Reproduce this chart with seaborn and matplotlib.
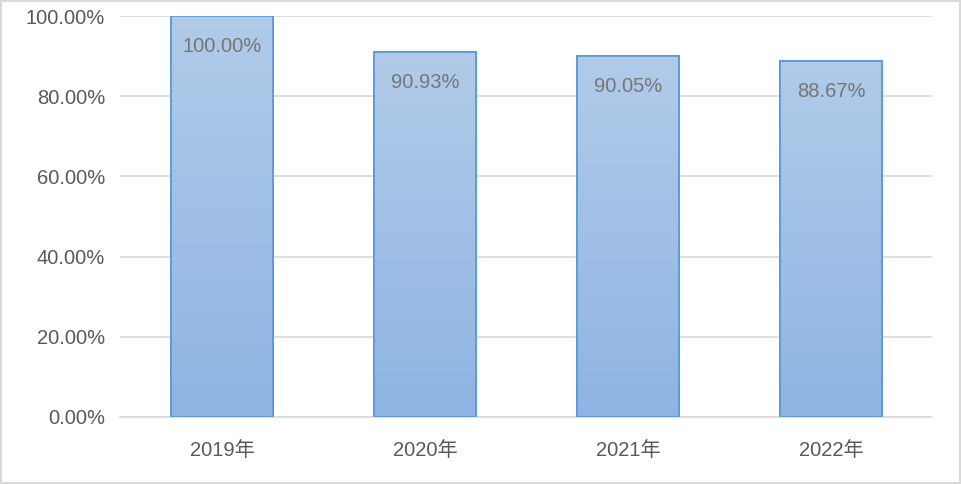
import numpy as np
import pandas as pd
import matplotlib
matplotlib.use('Agg')
import matplotlib.pyplot as plt
from matplotlib.patches import Rectangle
from matplotlib.colors import LinearSegmentedColormap
import seaborn as sns

years = ['2019年', '2020年', '2021年', '2022年']
rates = [100.00, 90.93, 90.05, 88.67]
y_ticks = [0, 20, 40, 60, 80, 100]

sns.set_style('white')
plt.rcParams['font.family'] = ['Liberation Sans', 'Noto Sans CJK SC', 'DejaVu Sans']

df = pd.DataFrame({'year': years, 'rate': rates})

fig = plt.figure(figsize=(9.62, 4.84), dpi=100)
ax = fig.add_axes([120.5 / 962, 1 - 417 / 484, 812 / 962, 401 / 484])

sns.barplot(data=df, x='year', y='rate', ax=ax, width=0.5,
            color='#a4c2e8', edgecolor='#5b9bd5', linewidth=1.3, zorder=3)

# gradient fill inside each bar
cmap = LinearSegmentedColormap.from_list('bar', ['#8fb4e3', '#b1cbe9'])
grad = np.linspace(0, 1, 256).reshape(-1, 1)
for p in ax.patches:
    x0, y0 = p.get_x(), p.get_y()
    w, h = p.get_width(), p.get_height()
    im = ax.imshow(grad, cmap=cmap, origin='lower', aspect='auto',
                   extent=[x0, x0 + w, y0, y0 + h], zorder=3.5)
    im.set_clip_path(p)
    edge = Rectangle((x0, y0), w, h, fill=False, edgecolor='#5b9bd5',
                     linewidth=1.3, zorder=4)
    ax.add_patch(edge)

for i, v in enumerate(rates):
    ax.text(i, v - 7.6, f'{v:.2f}%', ha='center', va='center',
            fontsize=14.5, color='#767676', zorder=5)

ax.set_xlim(-0.5, len(years) - 0.5)
ax.set_ylim(0, 100)
ax.set_yticks(y_ticks)
ax.set_yticklabels([f'{t:.2f}%' for t in y_ticks])
ax.set_xlabel('')
ax.set_ylabel('')
ax.tick_params(axis='both', length=0, labelsize=14.5, colors='#595959')
ax.tick_params(axis='y', pad=11)
ax.tick_params(axis='x', pad=17)
ax.yaxis.grid(True, color='#d9d9d9', linewidth=1.2, zorder=0)
ax.set_axisbelow(True)
for s in ['top', 'right', 'left']:
    ax.spines[s].set_visible(False)
ax.spines['bottom'].set_color('#d9d9d9')
ax.spines['bottom'].set_linewidth(1.2)

fig.patches.append(Rectangle((0.001, 0.002), 0.997, 0.996, transform=fig.transFigure,
                             fill=False, edgecolor='#d9d9d9', linewidth=1.5))

fig.savefig('out.png', dpi=100)
